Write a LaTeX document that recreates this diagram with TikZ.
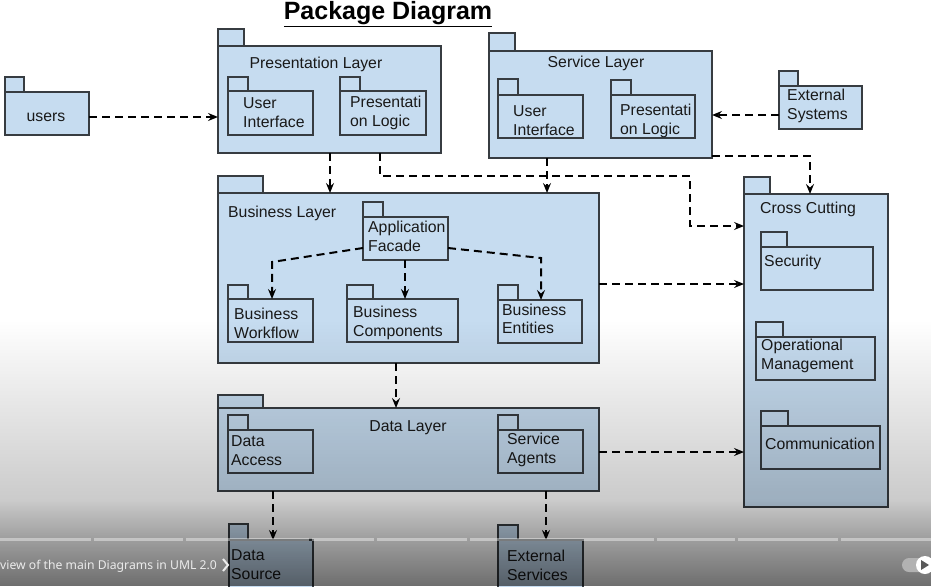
\documentclass[tikz,border=0pt]{standalone}
\usepackage{fontspec}
\setmainfont{Liberation Sans}
\newfontfamily\ovfont{Noto Sans}
\usetikzlibrary{arrows.meta,fadings}
\tikzfading[name=fadedown, top color=transparent!100, bottom color=transparent!0]
\definecolor{pkgfill}{RGB}{198,220,240}
\definecolor{pkgline}{RGB}{55,60,65}
% name x1 y1 x2 y2 tabw tabh
\newcommand\pkg[7]{%
  \draw[pkgtab] (#2,#3) rectangle ({#2+#6},{#3-#7});
  \node[pkgbody, minimum width={#4-#2}, minimum height={#5-#3}] (#1) at ({(#2+#4)/2},{(#3+#5)/2}) {};
}
\begin{document}
\begin{tikzpicture}[x=1pt,y=-1pt,
  pkgbody/.style={draw=pkgline, fill=pkgfill, line width=1.1pt, rectangle, inner sep=0pt, outer sep=0pt},
  pkgtab/.style={draw=pkgline, fill=pkgfill, line width=1.1pt},
  lbl/.style={font=\fontsize{15.8}{19}\selectfont, align=left, inner sep=0pt, text=black!90},
  dep/.style={dash pattern=on 8pt off 5pt, line width=2pt, -{Stealth[length=10pt,width=8pt,inset=3.5pt]}}]
\useasboundingbox (0,0) rectangle (933,586);
\fill[white] (0,0) rectangle (933,586);

\node[font=\fontsize{25}{29}\selectfont\bfseries, inner sep=0pt] (title) at (388,14) {\underline{Package Diagram}};

\pkg{users}{5}{92}{89}{135}{19}{15}
\pkg{pres}{218}{46}{441}{153}{26}{17}
\pkg{pui}{228}{91}{313}{135}{20}{14}
\pkg{ppl}{340}{91}{426}{135}{20}{14}
\pkg{serv}{489}{51}{712}{158}{26}{18}
\pkg{sui}{498}{95}{583}{138}{20}{16}
\pkg{spl}{611}{95}{695}{138}{20}{15}
\pkg{ext}{779}{86}{862}{129}{19}{15}
\pkg{bus}{218}{193}{599}{363}{45}{17}
\pkg{fac}{363}{217}{448}{260}{20}{15}
\pkg{bw}{228}{299}{313}{342}{20}{14}
\pkg{bc}{347}{299}{458}{342}{26}{14}
\pkg{be}{498}{300}{582}{343}{20}{15}
\pkg{cross}{744}{194}{888}{507}{26}{17}
\pkg{sec}{761}{247}{873}{290}{26}{15}
\pkg{ops}{756}{337}{875}{380}{27}{15}
\pkg{com}{761}{426}{880}{469}{27}{15}
\pkg{data}{218}{408}{599}{491}{45}{13}
\pkg{da}{228}{430}{313}{473}{20}{15}
\pkg{sa}{498}{430}{583}{473}{20}{15}
\pkg{ds}{229}{540}{313}{600}{19}{16}
\pkg{es}{498}{540}{583}{600}{20}{15}

\node[lbl] (tusers) at (46,117) {users};
\node[lbl] (tpres) at (316,64) {Presentation Layer};
\node[lbl] (tserv) at (596,63) {Service Layer};
\node[lbl, anchor=west] (tbus) at (228,213) {Business Layer};
\node[lbl, anchor=west] (tcross) at (760,209) {Cross Cutting};
\node[lbl] (tdata) at (408,428) {Data Layer};
\node[lbl, anchor=west] (tpui) at (243,113) {User\\Interface};
\node[lbl, anchor=west] (tppl) at (350,113) {Presentati\\on Logic};
\node[lbl, anchor=west] (tsui) at (513,121) {User\\Interface};
\node[lbl, anchor=west] (tspl) at (620,121) {Presentati\\on Logic};
\node[lbl, anchor=west] (text) at (787,106) {External\\Systems};
\node[lbl, anchor=west] (tfac) at (368,236) {Application\\Facade};
\node[lbl, anchor=west] (tbw) at (234,323) {Business\\Workflow};
\node[lbl, anchor=west] (tbc) at (353,323) {Business\\Components};
\node[lbl, anchor=west, font=\fontsize{15.8}{18}\selectfont] (tbe) at (502,319) {Business\\Entities};
\node[lbl, anchor=west] (tsec) at (764,262) {Security};
\node[lbl, anchor=west] (tops) at (761,356) {Operational\\Management};
\node[lbl, anchor=west] (tcom) at (765,444) {Communication};
\node[lbl, anchor=west] (tda) at (231,451) {Data\\Access};
\node[lbl, anchor=west] (tsa) at (507,450) {Service\\Agents};
\node[lbl, anchor=west] (tds) at (231,565) {Data\\Source};
\node[lbl, anchor=west] (tes) at (507,565) {External\\Services};

% connectors
\draw[dep] (users.east |- 0,117) -- (pres.west |- 0,117);
\draw[dep] (pres.south -| 330,0) -- (bus.north -| 330,0);
\draw[dep] (pres.south -| 380,0) |- (690,176) |- (cross.west |- 0,226);
\draw[dep] (serv.south -| 547,0) -- (bus.north -| 547,0);
\draw[dep] (serv.east |- 0,156) -| (cross.north -| 810,0);
\draw[dep] (ext.west |- 0,115) -- (serv.east |- 0,115);
\draw[dep] (bus.east |- 0,284) -- (cross.west |- 0,284);
\draw[dep] (fac.west |- 0,248) -- (272,262) -- (bw.north -| 272,0);
\draw[dep] (fac.south -| 405,0) -- (bc.north -| 405,0);
\draw[dep] (fac.east |- 0,248) -- (541,258) -- (be.north -| 541,0);
\draw[dep] (bus.south -| 396,0) -- (data.north -| 396,0);
\draw[dep] (data.east |- 0,452) -- (cross.west |- 0,452);
\draw[dep] (data.south -| 273,0) -- (ds.north -| 273,0);
\draw[dep] (data.south -| 546,0) -- (es.north -| 546,0);

% video overlay
\fill[black, path fading=fadedown, fill opacity=0.3] (0,320) rectangle (933,586);
\fill[black, path fading=fadedown, fill opacity=0.38] (0,500) rectangle (933,586);
\foreach \a/\b in {0/91,94/183,186/309,312/374,377/467,470/654,657/735,738/838,841/933}
  \draw[white, opacity=0.4, line width=3pt] (\a,539) -- (\b,539);
\node[font=\ovfont\fontsize{12.2}{14}\selectfont, text=white!92!black, anchor=west, inner sep=0pt] (ov) at (0,566) {view of the main Diagrams in UML 2.0};
\draw[white!92!black, line width=2pt] (223,559) -- (228,565) -- (223,571);
\fill[black!30, rounded corners=7pt] (902,558) rectangle (930,572);
\fill[white] (925,565) circle (9);
\fill[black!65] (921,560) -- (929,565) -- (921,570) -- cycle;
\end{tikzpicture}
\end{document}
